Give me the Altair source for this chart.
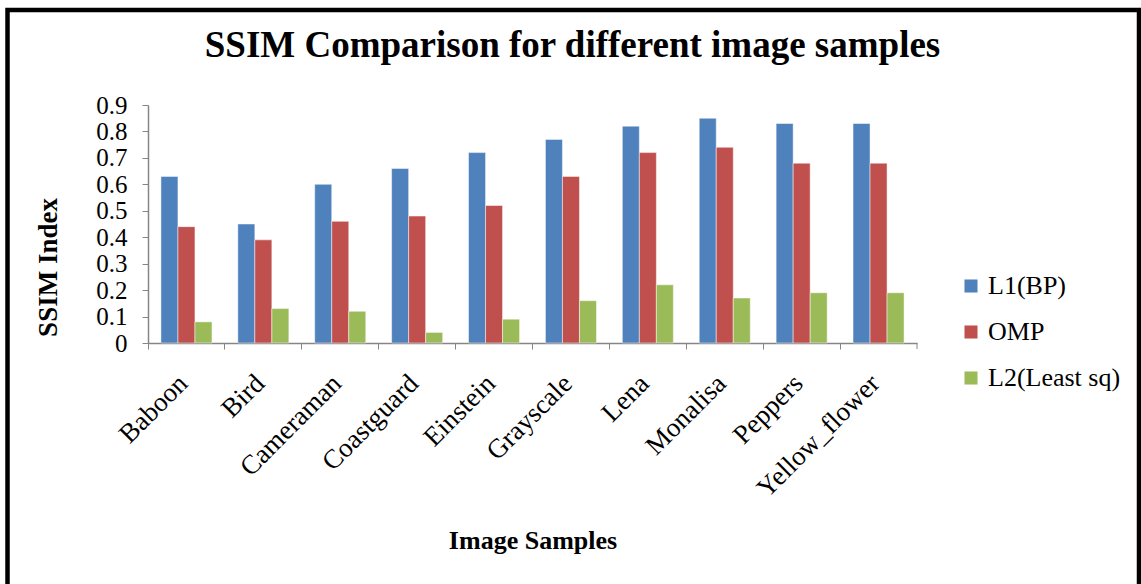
import altair as alt
import pandas as pd

samples = ["Baboon", "Bird", "Cameraman", "Coastguard", "Einstein",
           "Grayscale", "Lena", "Monalisa", "Peppers", "Yellow_flower"]
series = ["L1(BP)", "OMP", "L2(Least sq)"]
l1_bp = [0.63, 0.45, 0.60, 0.66, 0.72, 0.77, 0.82, 0.85, 0.83, 0.83]
omp = [0.44, 0.39, 0.46, 0.48, 0.52, 0.63, 0.72, 0.74, 0.68, 0.68]
l2_ls = [0.08, 0.13, 0.12, 0.04, 0.09, 0.16, 0.22, 0.17, 0.19, 0.19]
colors = ["#4F81BD", "#C0504D", "#9BBB59"]
y_ticks = [0, 0.1, 0.2, 0.3, 0.4, 0.5, 0.6, 0.7, 0.8, 0.9]

rows = []
for name, vals in zip(series, [l1_bp, omp, l2_ls]):
    for s, v in zip(samples, vals):
        rows.append({"sample": s, "series": name, "value": v})
df = pd.DataFrame(rows)

W, H = 769, 238
FONT = "Liberation Serif"
GRAY = "#868686"

bars = alt.Chart(df).mark_bar(stroke="#ffffff", strokeWidth=0.8, strokeOpacity=0.6).encode(
    x=alt.X("sample:N", sort=samples,
            scale=alt.Scale(paddingInner=0, paddingOuter=0),
            axis=alt.Axis(title="Image Samples", bandPosition=0,
                          labelOffset=-3, labelAngle=-45,
                          labelAlign="right", labelBaseline="middle",
                          labelPadding=30, labelFont=FONT, labelFontSize=27,
                          labelColor="black", tickSize=6, tickColor=GRAY,
                          domainColor=GRAY, domainWidth=1.5, labelOverlap=False,
                          titleFont=FONT, titleFontSize=26, titleFontWeight="bold",
                          titleColor="black", titleY=205, titleBaseline="alphabetic")),
    xOffset=alt.XOffset("series:N", sort=series,
                        scale=alt.Scale(paddingInner=0, paddingOuter=0.76)),
    y=alt.Y("value:Q", scale=alt.Scale(domain=[0, 0.9], nice=False),
            axis=alt.Axis(title="SSIM Index", values=y_ticks, format=".1~f",
                          grid=False, tickSize=6, tickColor=GRAY,
                          domainColor=GRAY, domainWidth=1.5, labelOverlap=False,
                          labelFont=FONT, labelFontSize=25, labelColor="black",
                          labelPadding=15,
                          titleFont=FONT, titleFontSize=27, titleFontWeight="bold",
                          titleColor="black", titleAngle=270, titleAlign="center",
                          titleBaseline="middle", titleX=-100, titleY=162)),
    color=alt.Color("series:N", sort=series,
                    scale=alt.Scale(domain=series, range=colors),
                    legend=alt.Legend(title=None, orient="none", legendX=810, legendY=168,
                                      symbolType="square", symbolSize=170,
                                      symbolStrokeWidth=0, labelFont=FONT,
                                      labelFontSize=26, labelColor="black",
                                      rowPadding=20, labelOffset=4, padding=0)),
)

end_tick = alt.Chart(alt.Data(values=[{"k": 1}])).mark_rule(color=GRAY, strokeWidth=1).encode(
    x=alt.value(W), y=alt.value(H), y2=alt.value(H + 6)
)

border = alt.Chart(alt.Data(values=[{"k": 1}])).mark_rect(
    fillOpacity=0, stroke="black", strokeWidth=4.5
).encode(
    x=alt.value(7.5 - 148), x2=alt.value(1139 - 148),
    y=alt.value(10 - 105), y2=alt.value(620 - 105)
)

chart = alt.layer(bars, end_tick, border).properties(
    width=W, height=H,
    background="white",
    title=alt.Title("SSIM Comparison for different image samples",
                    font=FONT, fontSize=37, fontWeight="bold", color="black",
                    anchor="middle", dx=40, dy=61),
    autosize=alt.AutoSizeParams(type="none"),
    padding={"left": 148, "top": 105, "right": 224, "bottom": 241},
).configure_view(stroke="transparent", strokeWidth=0)

chart.save("out.html", embed_options={"renderer": "svg", "actions": False})
